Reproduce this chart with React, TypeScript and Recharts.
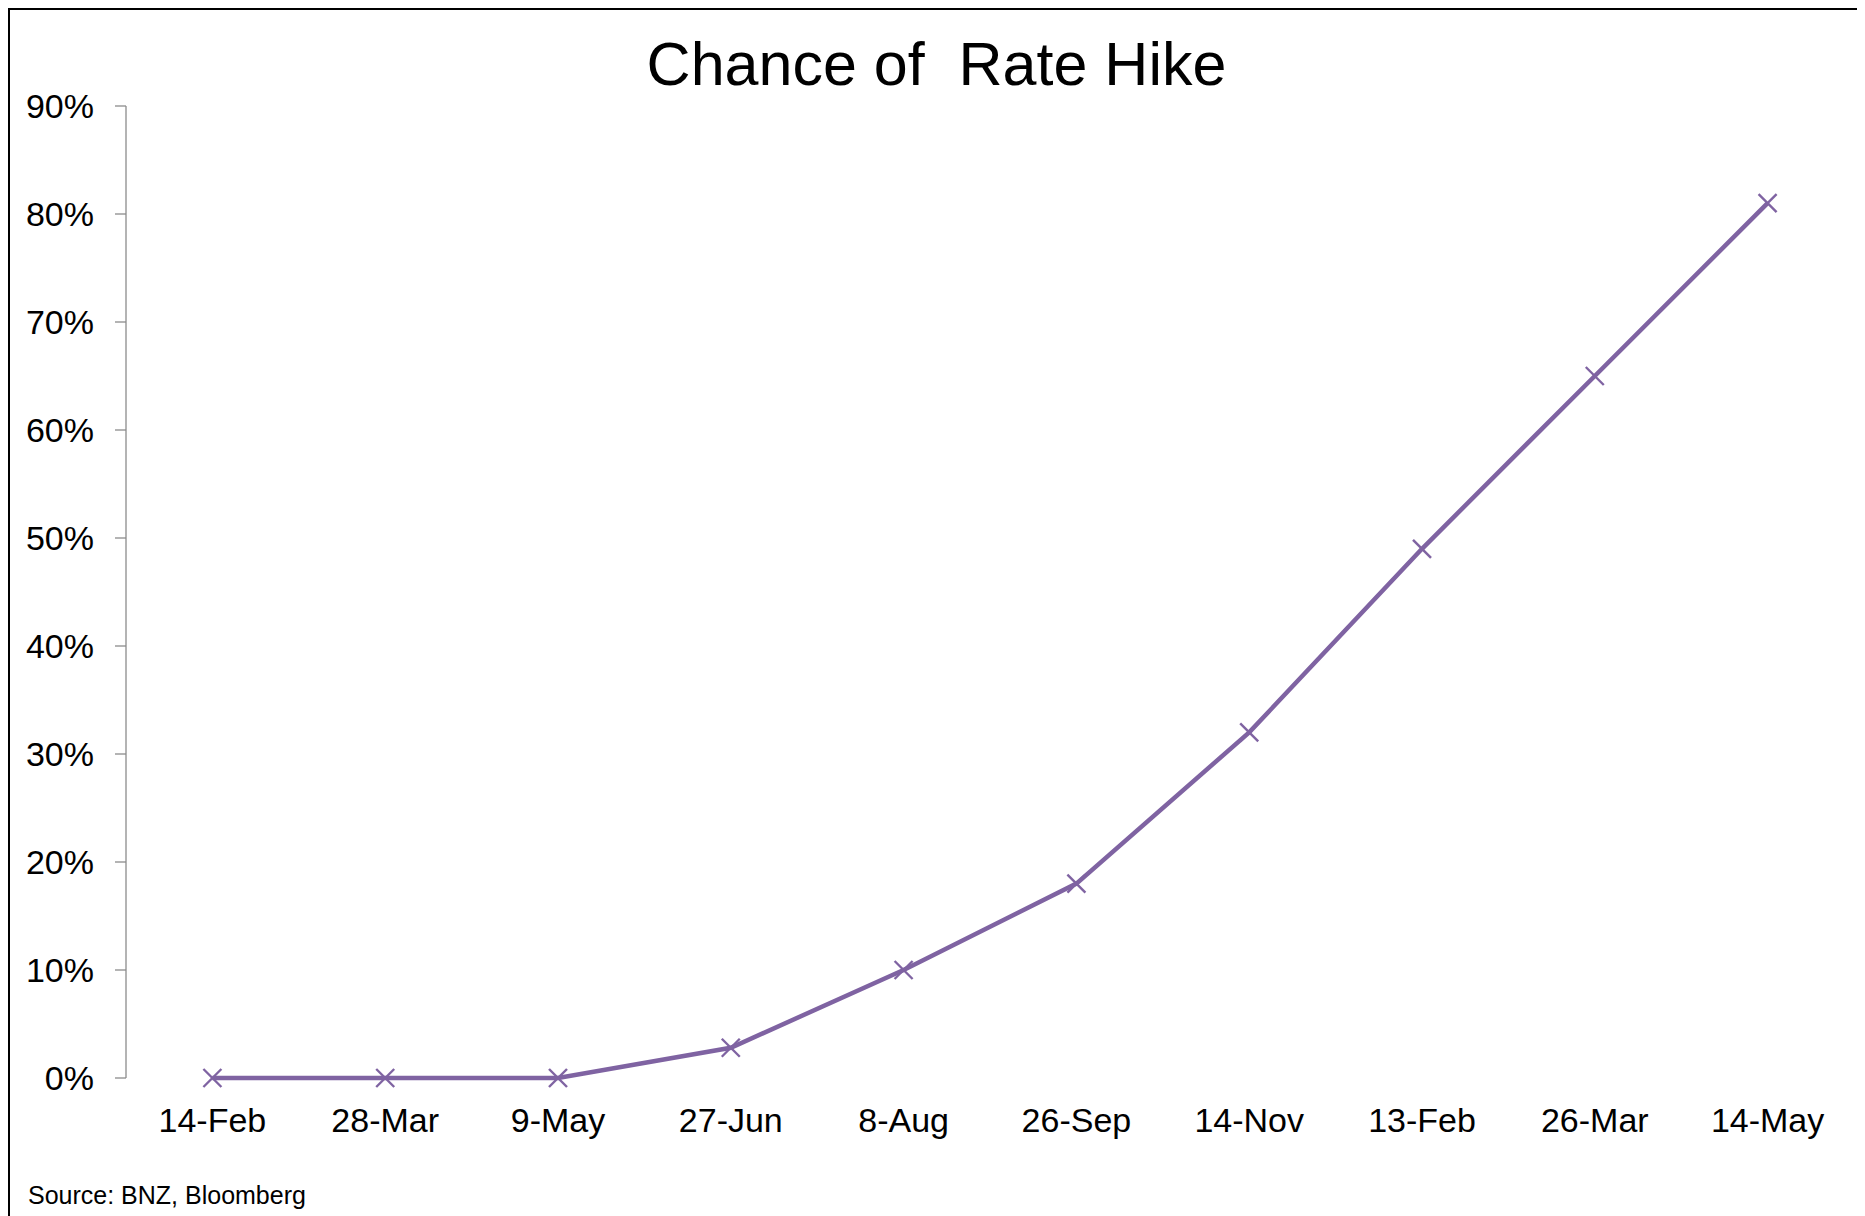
import React from 'react';
import { LineChart, Line, XAxis, YAxis } from 'recharts';

const dates = ['14-Feb', '28-Mar', '9-May', '27-Jun', '8-Aug', '26-Sep', '14-Nov', '13-Feb', '26-Mar', '14-May'];
const hikeChance = [0, 0, 0, 2.8, 10, 18, 32, 49, 65, 81];
const yTicks = [0, 10, 20, 30, 40, 50, 60, 70, 80, 90];

const FONT = '"Liberation Sans", Arial, sans-serif';
const AXIS_GREY = '#8c8c8c';
const PURPLE = '#7f63a2';

// each date sits in the middle of its slot on the x axis
const data = dates.map((d, i) => ({ date: d, pos: i + 0.5, value: hikeChance[i] }));
const boundaryTicks = dates.map((_, i) => i).concat(dates.length);
const labelTicks = data.map((d) => d.pos);

const CrossDot = (props: any) => {
  const { cx, cy } = props;
  if (cx == null || cy == null) return null;
  const s = 9;
  return (
    <g stroke={PURPLE} strokeWidth={2.4}>
      <line x1={cx - s} y1={cy - s} x2={cx + s} y2={cy + s} />
      <line x1={cx - s} y1={cy + s} x2={cx + s} y2={cy - s} />
    </g>
  );
};

export default function App() {
  return (
    <div
      style={{
        position: 'relative',
        width: 1853,
        height: 1206,
        border: '2px solid #000',
        background: '#fff',
        fontFamily: FONT,
      }}
    >
      <div
        style={{
          position: 'absolute',
          top: 24,
          left: 0,
          width: '100%',
          textAlign: 'center',
          fontSize: 61,
          lineHeight: 1,
          whiteSpace: 'pre',
          color: '#000',
        }}
      >
        {'Chance of  Rate Hike'}
      </div>
      <LineChart
        width={1853}
        height={1206}
        data={data}
        margin={{ top: 96, right: 9, bottom: 78, left: 0 }}
      >
        <XAxis
          xAxisId="bounds"
          type="number"
          dataKey="pos"
          domain={[0, dates.length]}
          ticks={boundaryTicks}
          tick={false}
          tickSize={12}
          height={0}
          stroke={AXIS_GREY}
          axisLine={{ stroke: AXIS_GREY, strokeWidth: 1.3 }}
          tickLine={{ stroke: AXIS_GREY, strokeWidth: 1.3 }}
        />
        <XAxis
          xAxisId="labels"
          type="number"
          dataKey="pos"
          domain={[0, dates.length]}
          ticks={labelTicks}
          interval={0}
          tickFormatter={(v: number) => dates[Math.floor(v)]}
          axisLine={false}
          tickLine={false}
          tickSize={0}
          tickMargin={30}
          height={60}
          tick={{ fill: '#000', fontSize: 34, fontFamily: FONT }}
        />
        <YAxis
          type="number"
          domain={[0, 90]}
          ticks={yTicks}
          interval={0}
          width={116}
          tickFormatter={(v: number) => `${v}%`}
          tickSize={11}
          tickMargin={21}
          axisLine={{ stroke: AXIS_GREY, strokeWidth: 1.3 }}
          tickLine={{ stroke: AXIS_GREY, strokeWidth: 1.3 }}
          tick={{ fill: '#000', fontSize: 34, fontFamily: FONT }}
        />
        <Line
          xAxisId="labels"
          type="linear"
          dataKey="value"
          stroke={PURPLE}
          strokeWidth={4.5}
          dot={<CrossDot />}
          activeDot={false}
          isAnimationActive={false}
        />
      </LineChart>
      <div
        style={{
          position: 'absolute',
          left: 18,
          top: 1173,
          fontSize: 25,
          lineHeight: 1,
          color: '#000',
        }}
      >
        Source: BNZ, Bloomberg
      </div>
    </div>
  );
}
